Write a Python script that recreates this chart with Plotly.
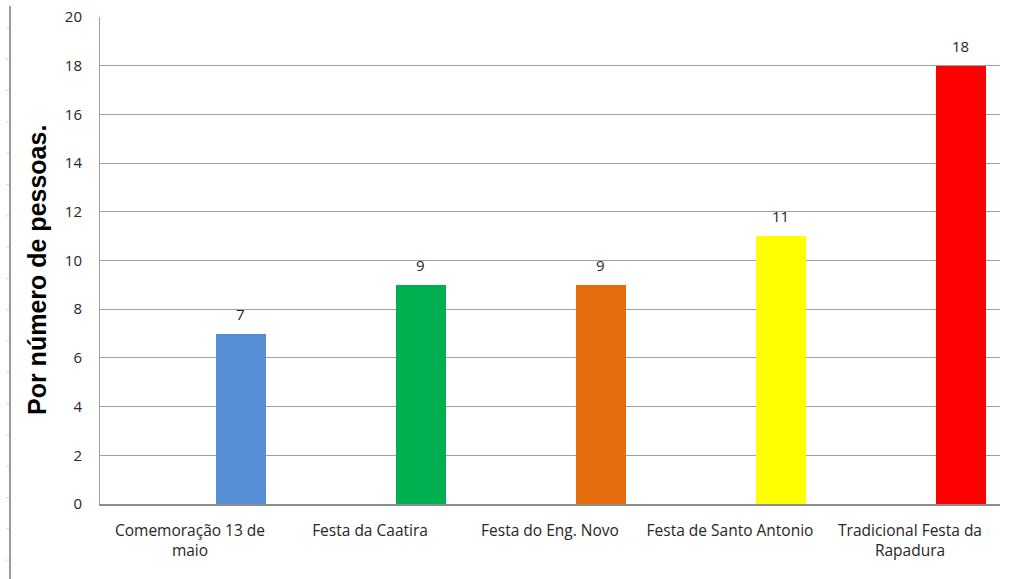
import plotly.graph_objects as go

# Festas e número de pessoas
categorias = [
    "Comemoração 13 de<br>maio",
    "Festa da Caatira",
    "Festa do Eng. Novo",
    "Festa de Santo Antonio",
    "Tradicional Festa da<br>Rapadura",
]
pessoas = [7, 9, 9, 11, 18]
cores = ["#558ED5", "#00B050", "#E46C0A", "#FFFF00", "#FF0000"]
y_ticks = [0, 2, 4, 6, 8, 10, 12, 14, 16, 18, 20]

FONT = "Open Sans"
BAR_W = 0.278
BAR_OFF = 0.144

fig = go.Figure()
fig.add_trace(
    go.Bar(
        x=list(range(len(categorias))),
        y=pessoas,
        marker=dict(color=cores, line=dict(width=0)),
        width=BAR_W,
        offset=BAR_OFF,
        hoverinfo="skip",
    )
)

# value labels floating above each bar
annotations = [
    dict(
        x=i + BAR_OFF + BAR_W / 2, y=v, xref="x", yref="y",
        text=str(v), showarrow=False, yanchor="middle", yshift=20,
        font=dict(family=FONT, size=15, color="#262626"),
    )
    for i, v in enumerate(pessoas)
]
annotations.append(
    dict(
        text="<b>Por número de pessoas.</b>",
        xref="paper", yref="paper",
        x=(37 - 100) / 900, y=(504 - 270) / 487,
        xanchor="center", yanchor="middle",
        textangle=-90, showarrow=False,
        font=dict(family="Liberation Sans", size=25, color="#000000"),
    )
)

# decorative margin rule on the far left
shapes = [
    dict(type="line", xref="paper", yref="paper",
         x0=(10 - 100) / 900, x1=(10 - 100) / 900,
         y0=(504 - 6) / 487, y1=(504 - 579) / 487,
         line=dict(color="#9A9A9A", width=2)),
]
for k in range(18):
    py = 28 + 31.3 * k
    shapes.append(dict(type="line", xref="paper", yref="paper",
                       x0=(6 - 100) / 900, x1=(9 - 100) / 900,
                       y0=(504 - py) / 487, y1=(504 - py) / 487,
                       line=dict(color="#D4D4D4", width=1)))

fig.update_layout(
    width=1014,
    height=579,
    margin=dict(l=100, r=14, t=17, b=75),
    paper_bgcolor="white",
    plot_bgcolor="white",
    showlegend=False,
    bargap=0,
    shapes=shapes,
    annotations=annotations,
    font=dict(family=FONT, size=15, color="#262626"),
    xaxis=dict(
        tickmode="array",
        tickvals=list(range(len(categorias))),
        ticktext=categorias,
        range=[-0.5, len(categorias) - 0.5],
        showgrid=False,
        showline=True,
        linecolor="#8C8C8C",
        linewidth=2,
        ticks="",
        ticklabelstandoff=11,
        tickfont=dict(family=FONT, size=15.5, color="#262626"),
        zeroline=False,
        automargin=False,
    ),
    yaxis=dict(
        range=[0, 20],
        tickmode="array",
        tickvals=y_ticks,
        showgrid=True,
        gridcolor="#A0A0A0",
        gridwidth=1,
        showline=True,
        linecolor="#A0A0A0",
        linewidth=1,
        ticks="",
        ticklabelstandoff=14,
        tickfont=dict(family=FONT, size=15, color="#262626"),
        zeroline=False,
        automargin=False,
    ),
)

fig.write_html("out.html")
